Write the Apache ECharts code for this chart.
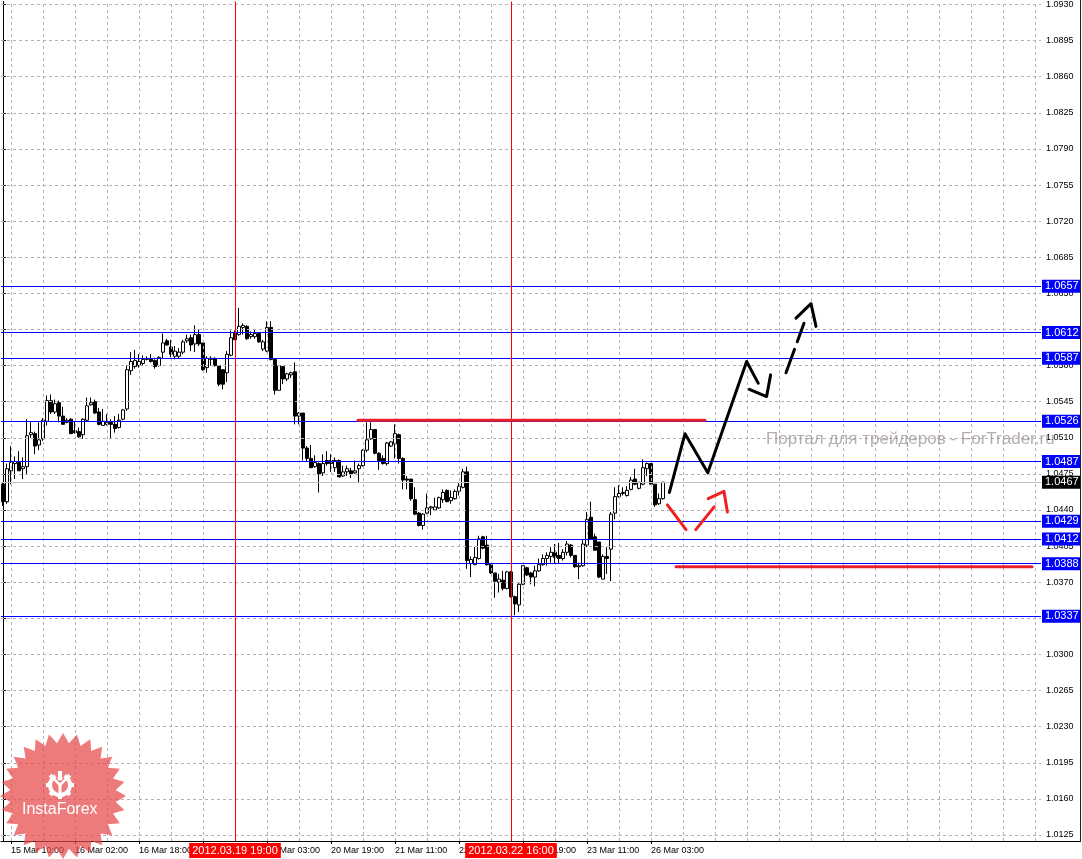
<!DOCTYPE html>
<html><head><meta charset="utf-8">
<script src="https://cdn.jsdelivr.net/npm/echarts@6/dist/echarts.min.js"></script>
<style>html,body{margin:0;padding:0;background:#fff;overflow:hidden}#c{width:1082px;height:859px}</style>
</head><body><div id="c"></div>
<script>
// ---- OHLC (H1 bars) ----
const opens = [1.0465,1.0448,1.0478,1.0485,1.0486,1.0480,1.0482,1.0513,1.0514,1.0503,1.0509,1.0526,1.0546,1.0535,1.0544,1.0531,1.0525,1.0528,1.0517,1.0516,
1.0513,1.0527,1.0542,1.0545,1.0535,1.0522,1.0523,1.0525,1.0523,1.0520,1.0528,1.0538,1.0575,1.0579,1.0580,1.0582,1.0586,1.0586,1.0585,1.0580,
1.0593,1.0604,1.0598,1.0589,1.0589,1.0593,1.0604,1.0607,1.0601,1.0610,1.0602,1.0578,1.0586,1.0587,1.0580,1.0576,1.0573,1.0590,1.0612,1.0610,
1.0617,1.0618,1.0608,1.0608,1.0611,1.0596,1.0594,1.0617,1.0586,1.0556,1.0579,1.0567,1.0571,1.0574,1.0531,1.0534,1.0500,1.0490,1.0482,1.0485,
1.0476,1.0488,1.0488,1.0481,1.0488,1.0473,1.0477,1.0478,1.0476,1.0480,1.0483,1.0498,1.0509,1.0518,1.0495,1.0490,1.0485,1.0502,1.0504,1.0513,
1.0490,1.0470,1.0470,1.0450,1.0437,1.0425,1.0437,1.0442,1.0440,1.0442,1.0450,1.0459,1.0449,1.0451,1.0458,1.0462,1.0477,1.0388,1.0387,1.0393,
1.0414,1.0406,1.0387,1.0379,1.0370,1.0372,1.0364,1.0380,1.0356,1.0348,1.0368,1.0384,1.0379,1.0375,1.0381,1.0387,1.0393,1.0395,1.0399,1.0396,
1.0393,1.0399,1.0406,1.0396,1.0385,1.0386,1.0406,1.0433,1.0414,1.0409,1.0373,1.0395,1.0402,1.0437,1.0453,1.0456,1.0454,1.0460,1.0470,1.0461,
1.0465,1.0480,1.0485,1.0465,1.0446,1.0451];
const highs = [1.0467,1.0485,1.0502,1.0492,1.0497,1.0491,1.0528,1.0525,1.0516,1.0525,1.0529,1.0551,1.0552,1.0547,1.0546,1.0540,1.0529,1.0529,1.0526,1.0520,
1.0529,1.0549,1.0549,1.0547,1.0539,1.0538,1.0533,1.0528,1.0531,1.0533,1.0538,1.0580,1.0593,1.0595,1.0591,1.0590,1.0589,1.0591,1.0586,1.0589,
1.0611,1.0606,1.0605,1.0599,1.0597,1.0605,1.0610,1.0610,1.0619,1.0615,1.0602,1.0589,1.0589,1.0588,1.0580,1.0576,1.0594,1.0614,1.0614,1.0636,
1.0621,1.0619,1.0613,1.0615,1.0611,1.0605,1.0623,1.0623,1.0586,1.0580,1.0579,1.0573,1.0574,1.0583,1.0535,1.0534,1.0502,1.0503,1.0493,1.0486,
1.0494,1.0497,1.0494,1.0491,1.0489,1.0483,1.0483,1.0481,1.0488,1.0485,1.0499,1.0525,1.0525,1.0518,1.0496,1.0493,1.0506,1.0507,1.0523,1.0514,
1.0491,1.0473,1.0470,1.0462,1.0438,1.0437,1.0456,1.0444,1.0452,1.0453,1.0460,1.0460,1.0459,1.0460,1.0466,1.0480,1.0482,1.0395,1.0404,1.0415,
1.0415,1.0415,1.0387,1.0379,1.0378,1.0381,1.0381,1.0381,1.0357,1.0369,1.0386,1.0385,1.0380,1.0386,1.0393,1.0397,1.0399,1.0404,1.0407,1.0408,
1.0402,1.0410,1.0407,1.0396,1.0389,1.0412,1.0438,1.0448,1.0417,1.0409,1.0397,1.0404,1.0438,1.0462,1.0464,1.0462,1.0463,1.0472,1.0480,1.0467,
1.0489,1.0486,1.0485,1.0465,1.0456,1.0467];
const lows = [1.0444,1.0446,1.0465,1.0470,1.0478,1.0470,1.0475,1.0510,1.0494,1.0498,1.0507,1.0522,1.0533,1.0533,1.0525,1.0523,1.0524,1.0514,1.0514,1.0510,
1.0509,1.0526,1.0541,1.0533,1.0522,1.0522,1.0522,1.0509,1.0515,1.0519,1.0527,1.0536,1.0571,1.0577,1.0578,1.0580,1.0585,1.0583,1.0577,1.0579,
1.0587,1.0599,1.0588,1.0586,1.0587,1.0591,1.0602,1.0594,1.0593,1.0599,1.0575,1.0573,1.0580,1.0579,1.0560,1.0557,1.0564,1.0589,1.0605,1.0609,
1.0610,1.0605,1.0606,1.0606,1.0602,1.0594,1.0593,1.0585,1.0552,1.0556,1.0562,1.0565,1.0568,1.0523,1.0523,1.0488,1.0487,1.0481,1.0481,1.0457,
1.0473,1.0483,1.0477,1.0477,1.0472,1.0472,1.0473,1.0471,1.0475,1.0466,1.0482,1.0496,1.0508,1.0494,1.0479,1.0484,1.0483,1.0501,1.0490,1.0485,
1.0460,1.0460,1.0449,1.0435,1.0424,1.0421,1.0436,1.0435,1.0440,1.0441,1.0447,1.0448,1.0446,1.0450,1.0454,1.0461,1.0383,1.0375,1.0387,1.0392,
1.0402,1.0386,1.0378,1.0355,1.0360,1.0362,1.0363,1.0355,1.0338,1.0341,1.0367,1.0376,1.0368,1.0366,1.0380,1.0386,1.0386,1.0389,1.0388,1.0388,
1.0391,1.0396,1.0394,1.0384,1.0373,1.0385,1.0404,1.0411,1.0401,1.0374,1.0373,1.0378,1.0371,1.0431,1.0452,1.0454,1.0453,1.0459,1.0464,1.0460,
1.0464,1.0473,1.0465,1.0443,1.0445,1.0450];
const closes = [1.0448,1.0480,1.0486,1.0487,1.0478,1.0482,1.0512,1.0515,1.0502,1.0508,1.0527,1.0546,1.0535,1.0543,1.0531,1.0523,1.0527,1.0514,1.0515,1.0511,
1.0528,1.0541,1.0544,1.0534,1.0523,1.0526,1.0525,1.0523,1.0519,1.0527,1.0537,1.0576,1.0584,1.0585,1.0584,1.0586,1.0587,1.0584,1.0579,1.0588,
1.0602,1.0600,1.0591,1.0594,1.0593,1.0603,1.0606,1.0600,1.0610,1.0601,1.0576,1.0587,1.0587,1.0580,1.0562,1.0562,1.0591,1.0607,1.0605,1.0618,
1.0619,1.0606,1.0610,1.0611,1.0603,1.0603,1.0617,1.0586,1.0556,1.0580,1.0567,1.0572,1.0573,1.0531,1.0534,1.0500,1.0490,1.0481,1.0486,1.0475,
1.0485,1.0485,1.0485,1.0488,1.0472,1.0477,1.0480,1.0475,1.0478,1.0483,1.0498,1.0508,1.0518,1.0495,1.0488,1.0485,1.0505,1.0506,1.0514,1.0490,
1.0469,1.0469,1.0451,1.0436,1.0425,1.0436,1.0442,1.0443,1.0443,1.0452,1.0457,1.0448,1.0452,1.0458,1.0463,1.0477,1.0391,1.0392,1.0394,1.0412,
1.0403,1.0387,1.0379,1.0371,1.0373,1.0364,1.0380,1.0356,1.0349,1.0368,1.0386,1.0377,1.0375,1.0381,1.0387,1.0393,1.0396,1.0399,1.0394,1.0393,
1.0399,1.0407,1.0396,1.0385,1.0386,1.0407,1.0431,1.0412,1.0401,1.0375,1.0395,1.0393,1.0436,1.0453,1.0456,1.0457,1.0459,1.0469,1.0465,1.0467,
1.0481,1.0485,1.0465,1.0445,1.0451,1.0467];

// ---- axis / levels ----
const yTicks = [1.0125,1.0160,1.0195,1.0230,1.0265,1.0300,1.0335,1.0370,1.0405,1.0440,1.0475,1.0510,1.0545,1.0580,1.0615,1.0650,1.0685,1.0720,1.0755,1.0790,1.0825,1.0860,1.0895,1.0930];
const levelLines = [1.0657,1.0612,1.0587,1.0526,1.0487,1.0429,1.0412,1.0388,1.0337];
const bidPrice = 1.0467;
const markerBars = [58,127];
const markerLabels = ['2012.03.19 19:00','2012.03.22 16:00'];
// ---- drawn objects (bar index, price) ----
const resistanceLine = [[88.75,1.0527],[175.5,1.0527]];
const supportLine = [[168.25,1.0385],[257.25,1.0385]];
const blackPath = [[166.6,1.0457],[170.5,1.0514],[176.2,1.0476],[185.9,1.0584],[188.8,1.0563]];
const blackHead1 = [[186.6,1.0557],[190.9,1.0550],[191.9,1.0571]];
const blackDash = [[195.75,1.0573],[200.25,1.0621]];
const blackHead2 = [[198.25,1.0626],[202.0,1.0640],[203.25,1.0618]];
const redDown = [[166.1,1.0445],[170.75,1.0421]];
const redUp = [[173.2,1.0421],[177.8,1.0443]];
const redHead = [[176.3,1.0451],[180.25,1.0458],[181.1,1.0438]];

const TOTAL_BARS = 260;
const Y_MIN = 1.011915, Y_MAX = 1.09329;

const months=['Jan','Feb','Mar','Apr','May','Jun','Jul','Aug','Sep','Oct','Nov','Dec'];
const p2 = n => (n<10?'0':'')+n;
const categories=[];
let t = Date.UTC(2012,2,15,8);
while(categories.length<opens.length){
  const d=new Date(t), wd=d.getUTCDay();
  const skip = wd===0||wd===6||(d.getUTCDate()===19&&d.getUTCHours()===0);
  if(!skip) categories.push(d.getUTCDate()+' '+months[d.getUTCMonth()]+' '+p2(d.getUTCHours())+':00');
  t+=3600000;
}
while(categories.length<TOTAL_BARS) categories.push('');

const candles = opens.map((o,i)=>[o,closes[i],lows[i],highs[i]]);
const gridBars=[]; for(let j=2;j<TOTAL_BARS;j+=8) gridBars.push(j);
const labelInterval = (i)=> i<opens.length && (i-2)%16===0;

const FONT='Liberation Sans';
const chart = echarts.init(document.getElementById('c'),null,{renderer:'canvas'});

function lineSeries(data,color,width,type,z){
  return {type:'line',xAxisIndex:1,yAxisIndex:0,data:data,showSymbol:false,symbol:'none',
    lineStyle:{color:color,width:width,type:type||'solid',cap:'round',join:'round'},z:z||6,silent:true,animation:false};
}

const boxLabel = (bg)=>({show:true,position:'end',distance:1,formatter:p=>Number(p.value).toFixed(4),
  backgroundColor:bg,color:'#ffffff',fontSize:11,fontFamily:FONT,padding:[1,2,0,3],lineHeight:12});

const option = {
  animation:false,
  backgroundColor:'#ffffff',
  grid:{left:1,right:41,top:0,bottom:18,containLabel:false},
  xAxis:[
    {type:'category',data:categories,boundaryGap:true,
     axisLine:{show:true,lineStyle:{color:'#000',width:1}},
     axisTick:{show:true,alignWithLabel:true,interval:labelInterval,length:3,lineStyle:{color:'#000'}},
     axisLabel:{interval:labelInterval,align:'left',fontSize:9,fontFamily:FONT,color:'#000',margin:5},
     splitLine:{show:false}},
    {type:'value',min:-0.5,max:TOTAL_BARS-0.5,show:false,splitLine:{show:false}}
  ],
  yAxis:[{type:'value',position:'right',min:Y_MIN,max:Y_MAX,scale:true,
    axisLine:{show:true,lineStyle:{color:'#000',width:1}},
    axisTick:{show:true,customValues:yTicks,length:3,lineStyle:{color:'#000'}},
    axisLabel:{customValues:yTicks,formatter:v=>Number(v).toFixed(4),fontSize:9,fontFamily:FONT,color:'#000',margin:5},
    splitLine:{show:false}}],
  series:[
    {type:'line',xAxisIndex:1,yAxisIndex:0,data:[],z:1,silent:true,
     markLine:{silent:true,precision:6,symbol:['none','none'],animation:false,label:{show:false},
       lineStyle:{color:'#b6aeb8',width:1,type:[3,3]},
       data:[...yTicks.map(v=>({yAxis:v})),...gridBars.map(j=>({xAxis:j}))]}},
    {type:'candlestick',xAxisIndex:0,yAxisIndex:0,data:candles,barWidth:3,z:3,silent:true,
     itemStyle:{color:'#ffffff',color0:'#000000',borderColor:'#000000',borderColor0:'#000000',borderWidth:1}},
    {type:'line',xAxisIndex:1,yAxisIndex:0,data:[],z:4,silent:true,
     markLine:{silent:true,precision:6,symbol:['none','none'],animation:false,
       lineStyle:{color:'#0000ff',width:1,type:'solid'},
       label:boxLabel('#0000ff'),
       data:levelLines.map(v=>({yAxis:v}))}},
    {type:'line',xAxisIndex:1,yAxisIndex:0,data:[],z:4,silent:true,
     markLine:{silent:true,precision:6,symbol:['none','none'],animation:false,
       lineStyle:{color:'#c0c0c0',width:1,type:'solid'},
       label:boxLabel('#000000'),
       data:[{yAxis:bidPrice}]}},
    {type:'line',xAxisIndex:1,yAxisIndex:0,data:[],z:7,silent:true,
     markLine:{silent:true,precision:6,symbol:['none','none'],animation:false,
       lineStyle:{color:'#ff0000',width:1,type:'solid'},
       label:{show:true,position:'start',distance:2,formatter:p=>p.name,
         backgroundColor:'#ff0000',color:'#ffffff',fontSize:11,fontFamily:FONT,padding:[2,3,1,3],lineHeight:12},
       data:markerBars.map((j,k)=>({xAxis:j,name:markerLabels[k]}))}},
    lineSeries(resistanceLine,'#e8202a',3,'solid',5),
    lineSeries(supportLine,'#e8202a',3,'solid',5),
    lineSeries(blackPath,'#000000',3,'solid',6),
    lineSeries(blackHead1,'#000000',3,'solid',6),
    lineSeries(blackDash,'#000000',3,[25,8],6),
    lineSeries(blackHead2,'#000000',3,'solid',6),
    lineSeries(redDown,'#ee2020',3,'solid',6),
    lineSeries(redUp,'#ee2020',3,'solid',6),
    lineSeries(redHead,'#ee2020',3,'solid',6)
  ]
};

// InstaForex badge
const cx=63, cy=796, n=28, rO=63, rI=53;
const starPts=[];
for(let i=0;i<2*n;i++){const r=i%2?rI:rO; const a=i*Math.PI/n-Math.PI/2; starPts.push([cx+r*Math.cos(a),cy+r*Math.sin(a)]);}
const teeth=[];
for(let i=0;i<8;i++){const a=i*Math.PI/4; teeth.push({type:'rect',shape:{x:-2,y:-14,width:4,height:5},
  position:[60,785],rotation:-a,style:{fill:'#fff'}});}
option.graphic=[
  {type:'line',shape:{x1:1040,y1:841.5,x2:1080,y2:841.5},style:{stroke:'#000',lineWidth:1},z:50},
  {type:'line',shape:{x1:1080.5,y1:0,x2:1080.5,y2:842},style:{stroke:'#202020',lineWidth:1},z:50},
  {type:'text',left:766,top:431,style:{text:'Портал для трейдеров - ForTrader.ru',font:'17px "Liberation Sans"',fill:'rgba(150,140,140,0.7)'},z:60},
  {type:'polygon',shape:{points:starPts},style:{fill:'rgba(232,72,72,0.72)'},z:80},
  {type:'arc',shape:{cx:60,cy:785,r:10,startAngle:-Math.PI*0.35,endAngle:Math.PI*1.35,clockwise:true},style:{stroke:'#fff',lineWidth:4,fill:null},z:81},
  ...teeth.map(o=>Object.assign(o,{z:81})),
  {type:'circle',shape:{cx:60,cy:778,r:2.5},style:{fill:'#fff'},z:82},
  {type:'polyline',shape:{points:[[54,779],[60,785],[66,779]]},style:{stroke:'#fff',lineWidth:2.5,fill:null},z:82},
  {type:'line',shape:{x1:60,y1:785,x2:60,y2:796},style:{stroke:'#fff',lineWidth:3},z:82},
  {type:'text',left:22,top:802,style:{text:'InstaForex',font:'16px "Liberation Sans"',fill:'#ffffff'},z:82}
];
chart.setOption(option);
</script></body></html>
